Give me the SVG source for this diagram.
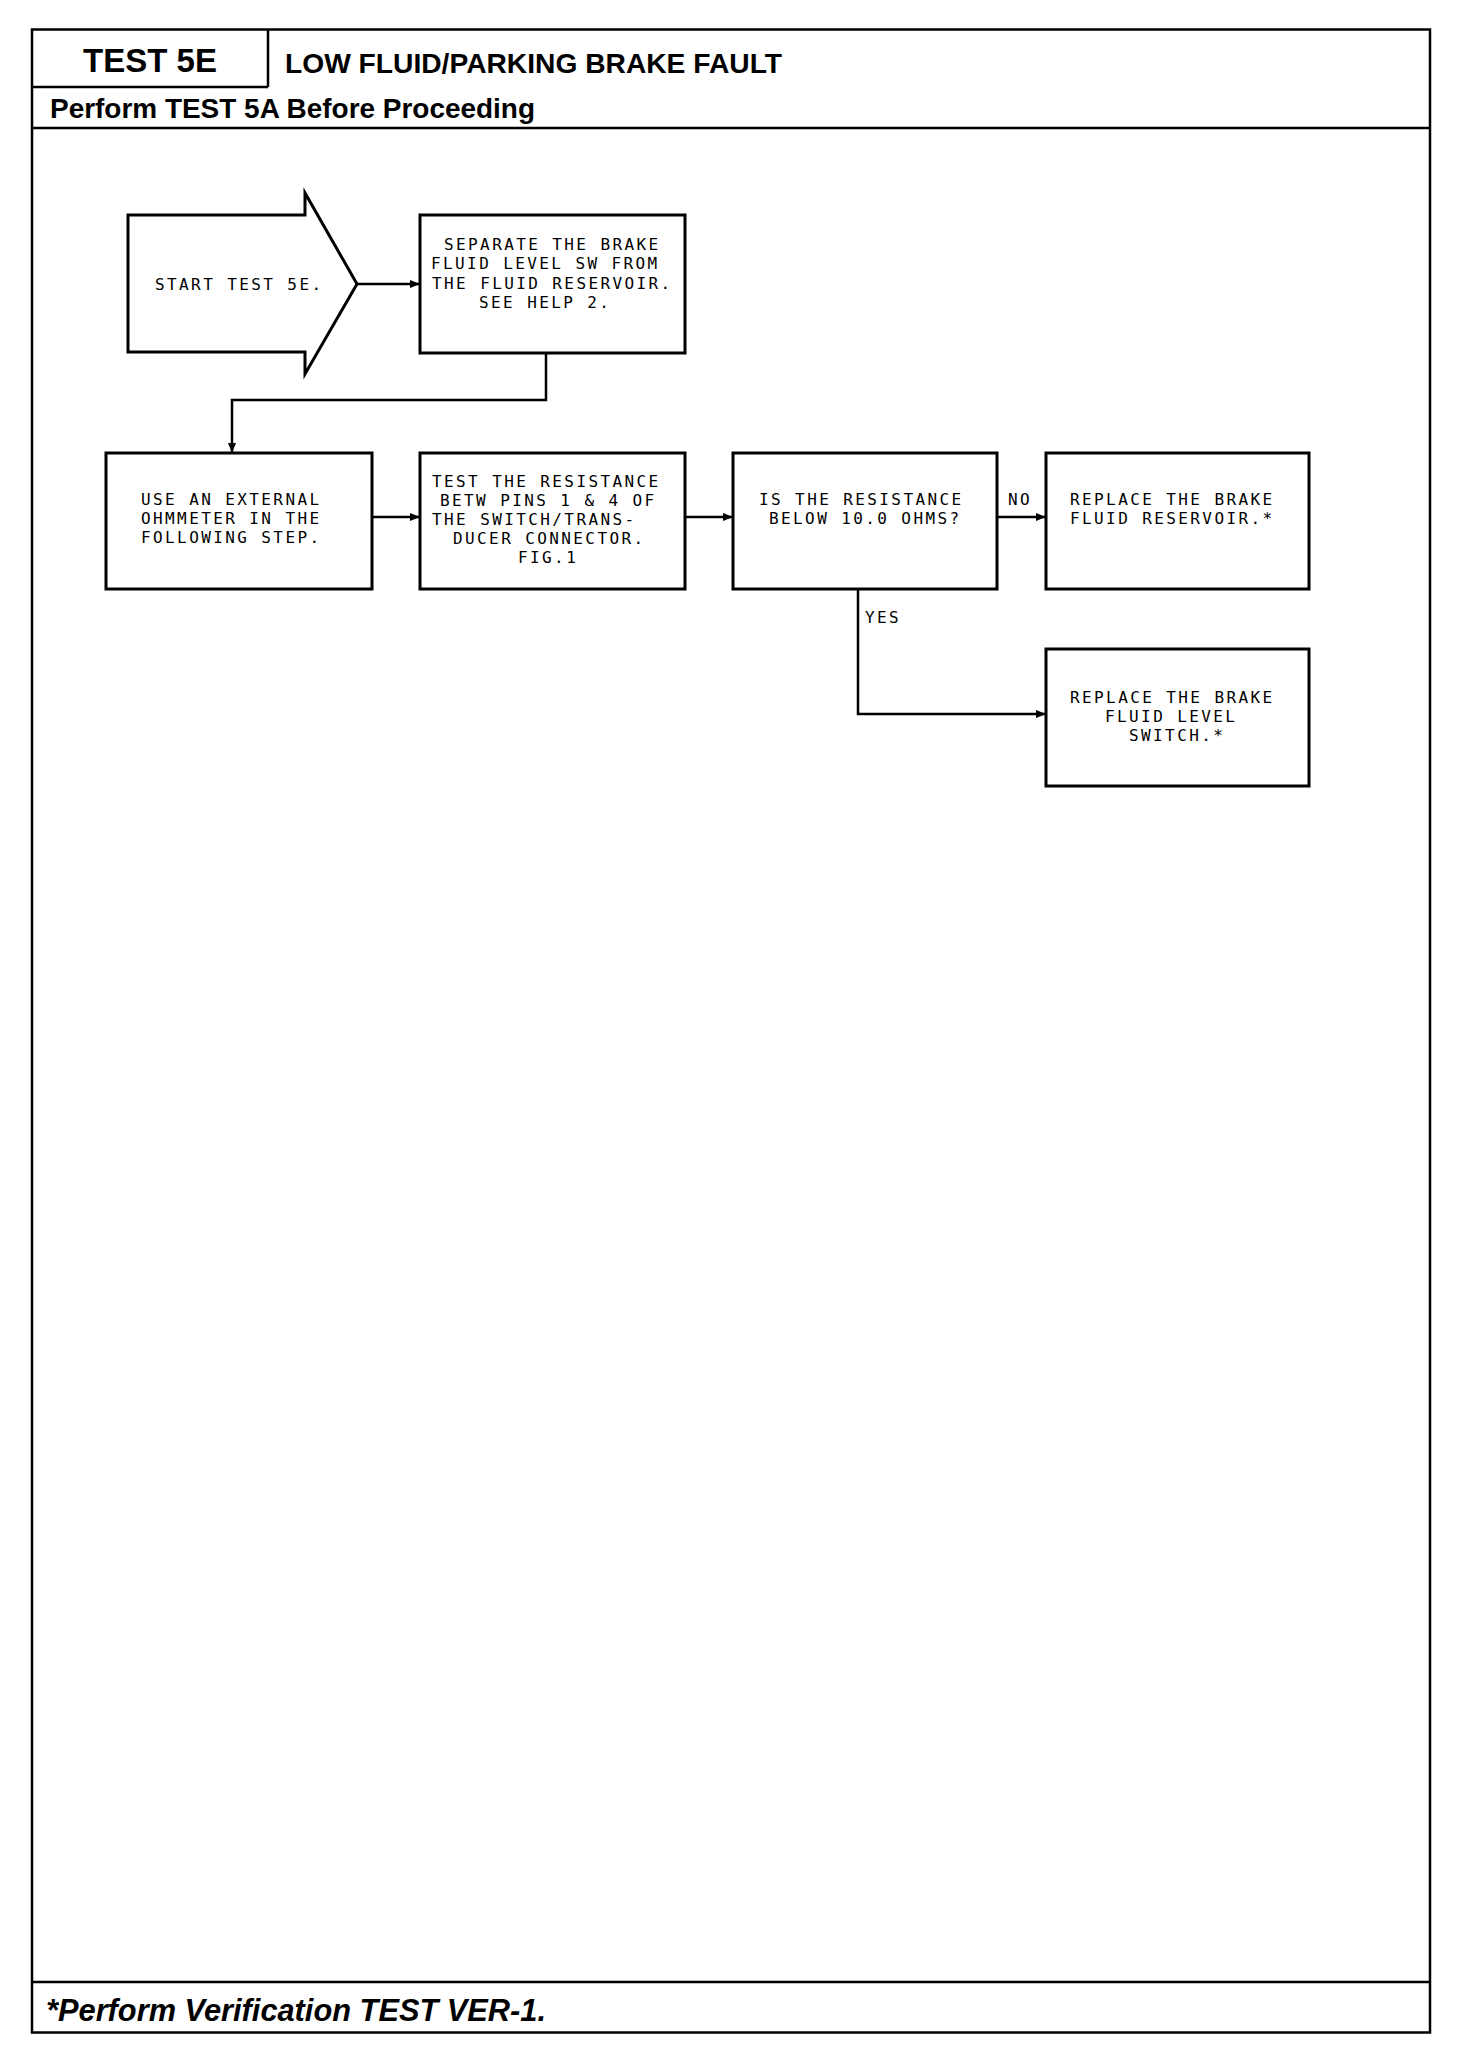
<svg xmlns="http://www.w3.org/2000/svg" width="1472" height="2048" viewBox="0 0 1472 2048">
<style>
.frame{fill:none;stroke:#000;stroke-width:2.5}
.box{fill:#fff;stroke:#000;stroke-width:3}
.t{font-family:"DejaVu Sans Mono","Liberation Mono",monospace;font-size:16px;letter-spacing:2.4px;fill:#000}
.hb{font-family:"Liberation Sans",Arial,sans-serif;font-weight:bold;fill:#000}
.conn{fill:none;stroke:#000;stroke-width:2.5}
</style>
<defs>
<marker id="ah" viewBox="0 0 10 8" refX="10" refY="4" markerWidth="10" markerHeight="8" markerUnits="userSpaceOnUse" orient="auto">
<path d="M0,0 L10,4 L0,8 Z" fill="#000"/>
</marker>
</defs>
<rect width="1472" height="2048" fill="#fff"/>
<g id="frame">
<rect class="frame" x="32" y="29.5" width="1398" height="2003"/>
<line class="frame" x1="32" y1="87" x2="268" y2="87"/>
<line class="frame" x1="268" y1="29.5" x2="268" y2="87"/>
<line class="frame" x1="32" y1="128" x2="1430" y2="128"/>
<line class="frame" x1="32" y1="1982" x2="1430" y2="1982"/>
<text class="hb" x="150" y="72" font-size="33" text-anchor="middle">TEST 5E</text>
<text class="hb" x="285" y="73" font-size="28" textLength="497" lengthAdjust="spacingAndGlyphs">LOW FLUID/PARKING BRAKE FAULT</text>
<text class="hb" x="50" y="118" font-size="28" textLength="485" lengthAdjust="spacingAndGlyphs">Perform TEST 5A Before Proceeding</text>
<text class="hb" x="46" y="2021" font-size="32" font-style="italic" textLength="500" lengthAdjust="spacingAndGlyphs">*Perform Verification TEST VER-1.</text>
</g>
<g id="connectors">
<path class="conn" d="M357,284 H420" marker-end="url(#ah)"/>
<path class="conn" d="M546,353 V400 H232 V453" marker-end="url(#ah)"/>
<path class="conn" d="M372,517 H420" marker-end="url(#ah)"/>
<path class="conn" d="M685,517 H733" marker-end="url(#ah)"/>
<path class="conn" d="M997,517 H1046" marker-end="url(#ah)"/>
<path class="conn" d="M858,589 V714 H1046" marker-end="url(#ah)"/>
<text class="t" x="1008" y="505">NO</text>
<text class="t" x="865" y="623">YES</text>
</g>
<g id="start">
<polygon class="box" points="128,215 305,215 305,193 357,284 305,374 305,352 128,352"/>
<text class="t" x="155" y="290">START TEST 5E.</text>
</g>
<g id="separate">
<rect class="box" x="420" y="215" width="265" height="138"/>
<text class="t" x="444" y="250">SEPARATE THE BRAKE</text>
<text class="t" x="431" y="269">FLUID LEVEL SW FROM</text>
<text class="t" x="432" y="289">THE FLUID RESERVOIR.</text>
<text class="t" x="479" y="308">SEE HELP 2.</text>
</g>
<g id="ohmmeter">
<rect class="box" x="106" y="453" width="266" height="136"/>
<text class="t" x="141" y="505">USE AN EXTERNAL</text>
<text class="t" x="141" y="524">OHMMETER IN THE</text>
<text class="t" x="141" y="543">FOLLOWING STEP.</text>
</g>
<g id="testres">
<rect class="box" x="420" y="453" width="265" height="136"/>
<text class="t" x="432" y="487">TEST THE RESISTANCE</text>
<text class="t" x="440" y="506">BETW PINS 1 &amp; 4 OF</text>
<text class="t" x="432" y="525">THE SWITCH/TRANS-</text>
<text class="t" x="453" y="544">DUCER CONNECTOR.</text>
<text class="t" x="518" y="563">FIG.1</text>
</g>
<g id="decision">
<rect class="box" x="733" y="453" width="264" height="136"/>
<text class="t" x="759" y="505">IS THE RESISTANCE</text>
<text class="t" x="769" y="524">BELOW 10.0 OHMS?</text>
</g>
<g id="reservoir">
<rect class="box" x="1046" y="453" width="263" height="136"/>
<text class="t" x="1070" y="505">REPLACE THE BRAKE</text>
<text class="t" x="1070" y="524">FLUID RESERVOIR.*</text>
</g>
<g id="switch">
<rect class="box" x="1046" y="649" width="263" height="137"/>
<text class="t" x="1070" y="703">REPLACE THE BRAKE</text>
<text class="t" x="1105" y="722">FLUID LEVEL</text>
<text class="t" x="1129" y="741">SWITCH.*</text>
</g>
</svg>
